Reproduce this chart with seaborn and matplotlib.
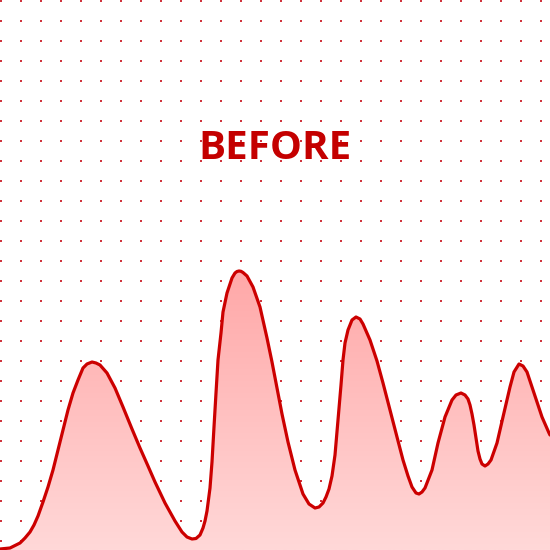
import numpy as np
import pandas as pd
import matplotlib
matplotlib.use("Agg")
import matplotlib.pyplot as plt
import seaborn as sns

# curve: x position and pixel row of the line (from top)
xs = [0, 10, 20, 25, 30, 34, 38, 43, 48, 53, 58, 63, 68, 73, 78, 83, 87, 92,
      96, 100, 107, 115, 123, 132, 140, 148, 155, 165, 175, 182, 187, 192, 196,
      200, 203, 205, 207, 210, 212, 214, 216, 218, 221, 223, 227, 232, 235, 237,
      239, 241, 243, 247, 253, 260, 267, 272, 277, 282, 288, 295, 303, 309, 315,
      319, 323, 326, 329, 332, 335, 338, 341, 343, 345, 348, 352, 356, 360, 363,
      370, 377, 383, 390, 397, 403, 408, 412, 416, 419, 422, 425, 432, 438, 445,
      452, 456, 461, 465, 468, 470, 472, 474, 476, 478, 480, 482, 485, 488, 491,
      497, 503, 510, 514, 519, 523, 527, 533, 542, 549, 550]
rows = [549, 548, 543, 538, 532, 525, 516, 502, 487, 470, 450, 430, 410, 393,
        380, 368, 364, 362, 363, 365, 373, 388, 407, 429, 448, 466, 482, 503,
        521, 532, 537, 539, 538.5, 535, 528, 521, 511, 488, 462, 427, 393, 360,
        333, 312, 293, 278, 273, 271.5, 271, 271.3, 272.5, 276, 287, 307, 338,
        362, 388, 414, 442, 470, 494, 504, 508, 507, 503, 497, 489, 476, 455,
        420, 385, 360, 343, 330, 320, 317, 319, 324, 340, 361, 383, 410, 437,
        460, 476, 487, 493, 494, 492, 488, 470, 443, 417, 400, 395, 393, 395,
        399, 405, 414, 425, 438, 451, 459, 464, 466, 464, 460, 443, 417, 387,
        372, 364, 366, 372, 390, 417, 433, 435]
heights = [550 - r for r in rows]
title = "BEFORE"

df = pd.DataFrame({"x": xs, "y": heights})

sns.set_style("white")
plt.rcParams["font.family"] = ["Open Sans", "DejaVu Sans"]

fig = plt.figure(figsize=(5.5, 5.5), dpi=100)
ax = fig.add_axes([0, 0, 1, 1])
ax.axis("off")

# dotted background grid, every 20 px
gx, gy = np.meshgrid(np.arange(1, 550, 20), np.arange(549, 0, -20))
ax.scatter(gx.ravel(), gy.ravel(), s=2.2, marker="s", color="#d0343c",
           linewidths=0, zorder=1)

# vertical gradient fill under the curve
poly = ax.fill_between(df["x"], df["y"], 0, color="none", zorder=2)
top = np.array([255, 168, 168]) / 255
bot = np.array([255, 216, 216]) / 255
t = np.linspace(0, 1, 256)[:, None]
grad = (bot * (1 - t) + top * t)[:, None, :]
im = ax.imshow(grad, extent=[0, 550, 0, 280], origin="lower", aspect="auto",
               zorder=2)
im.set_clip_path(poly.get_paths()[0], transform=ax.transData)

sns.lineplot(data=df, x="x", y="y", ax=ax, color="#cc0000", linewidth=2.3,
             zorder=3, sort=False)
ax.set_xlim(0, 550)
ax.set_ylim(0, 550)

ax.text(275, 391, title, ha="center", va="baseline", fontsize=29,
        fontweight="bold", color="#c40000", zorder=4)

fig.savefig("out.png", dpi=100)
